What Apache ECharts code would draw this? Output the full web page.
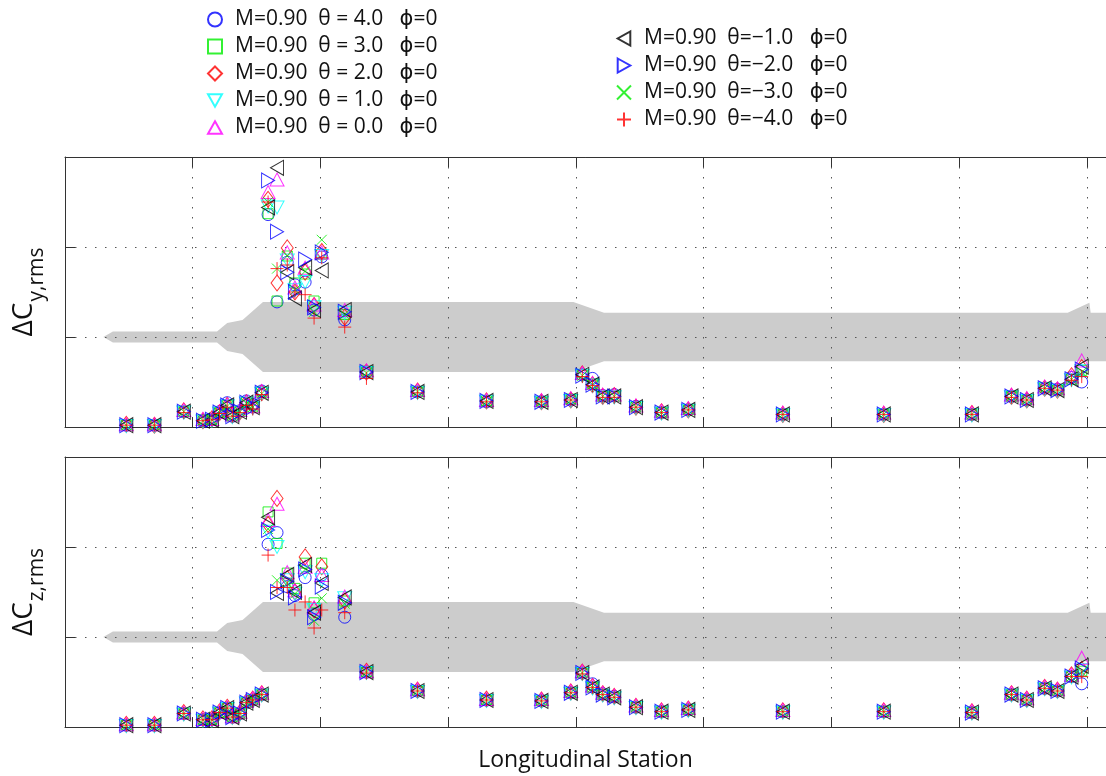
<!DOCTYPE html>
<html>
<head>
<meta charset="utf-8">
<script src="https://cdn.jsdelivr.net/npm/echarts@6/dist/echarts.min.js"></script>
<style>
  html, body { margin: 0; padding: 0; background: #ffffff; }
  #chart { width: 1106px; height: 776px; }
</style>
</head>
<body>
<div id="chart"></div>
<script>
// Longitudinal stations where the coefficients were sampled
const stations = [0.48, 0.70, 0.93, 1.08, 1.15, 1.21, 1.27, 1.31, 1.37, 1.42, 1.47, 1.54,
  1.59, 1.66, 1.74, 1.80, 1.88, 1.95, 2.01, 2.19,
  2.36, 2.76, 3.30, 3.73, 3.96, 4.05, 4.13, 4.21, 4.30, 4.47, 4.67, 4.88,
  5.62, 6.41, 7.10, 7.41, 7.53, 7.67, 7.77, 7.88, 7.96];

// Legend labels, one per run
const runNames = [
  'M=0.90  θ = 4.0   ϕ=0',
  'M=0.90  θ = 3.0   ϕ=0',
  'M=0.90  θ = 2.0   ϕ=0',
  'M=0.90  θ = 1.0   ϕ=0',
  'M=0.90  θ = 0.0   ϕ=0',
  'M=0.90  θ=−1.0   ϕ=0',
  'M=0.90  θ=−2.0   ϕ=0',
  'M=0.90  θ=−3.0   ϕ=0',
  'M=0.90  θ=−4.0   ϕ=0'
];

// ΔCy,rms per run
const cyTheta4  = [0.02,0.02,0.17,0.07,0.08,0.17,0.27,0.12,0.18,0.29,0.25,0.40, 2.36,1.39,1.83,1.58,1.61,1.30,1.89,1.19, 0.61,0.39,0.28,0.28,0.30,0.58,0.54,0.35,0.36,0.23,0.16,0.19,0.14,0.14,0.14,0.34,0.30,0.43,0.42,0.55,0.50];
const cyTheta3  = [0.02,0.02,0.17,0.08,0.08,0.16,0.24,0.12,0.17,0.27,0.22,0.39, 2.37,1.40,1.90,1.60,1.70,1.40,1.92,1.25, 0.62,0.39,0.29,0.28,0.31,0.58,0.48,0.34,0.34,0.22,0.16,0.19,0.14,0.14,0.14,0.34,0.30,0.44,0.41,0.53,0.63];
const cyTheta2  = [0.03,0.02,0.18,0.07,0.09,0.16,0.24,0.13,0.17,0.27,0.23,0.38, 2.53,1.60,1.99,1.50,1.72,1.35,1.95,1.22, 0.61,0.40,0.29,0.28,0.30,0.59,0.47,0.34,0.35,0.22,0.17,0.19,0.14,0.14,0.15,0.34,0.30,0.43,0.41,0.57,0.66];
const cyTheta1  = [0.01,0.01,0.16,0.06,0.07,0.15,0.23,0.11,0.16,0.26,0.21,0.37, 2.45,2.44,1.85,1.52,1.61,1.33,1.90,1.27, 0.60,0.38,0.28,0.27,0.29,0.57,0.46,0.33,0.33,0.21,0.15,0.18,0.13,0.13,0.13,0.33,0.29,0.42,0.40,0.52,0.62];
const cyTheta0  = [0.03,0.03,0.19,0.09,0.09,0.17,0.25,0.14,0.19,0.28,0.23,0.40, 2.61,2.75,1.94,1.55,1.77,1.36,1.94,1.30, 0.63,0.41,0.30,0.30,0.32,0.60,0.49,0.36,0.36,0.24,0.18,0.21,0.16,0.16,0.16,0.36,0.32,0.45,0.43,0.56,0.74];
const cyThetaM1 = [0.02,0.02,0.17,0.07,0.08,0.16,0.24,0.12,0.17,0.27,0.22,0.38, 2.44,2.88,1.72,1.43,1.77,1.30,1.74,1.30, 0.61,0.39,0.29,0.28,0.30,0.58,0.47,0.34,0.34,0.22,0.16,0.19,0.14,0.14,0.14,0.34,0.30,0.43,0.41,0.53,0.67];
const cyThetaM2 = [0.02,0.02,0.17,0.07,0.08,0.16,0.24,0.12,0.17,0.27,0.22,0.38, 2.74,2.17,1.72,1.50,1.86,1.33,1.94,1.28, 0.61,0.39,0.29,0.28,0.30,0.57,0.47,0.34,0.34,0.22,0.16,0.19,0.14,0.14,0.14,0.34,0.30,0.43,0.41,0.53,0.64];
const cyThetaM3 = [0.02,0.02,0.17,0.07,0.08,0.16,0.23,0.12,0.17,0.26,0.22,0.37, 2.50,1.76,1.90,1.52,1.73,1.28,2.08,1.25, 0.60,0.39,0.28,0.28,0.30,0.57,0.47,0.34,0.34,0.22,0.16,0.19,0.14,0.14,0.14,0.34,0.30,0.43,0.41,0.53,0.61];
const cyThetaM4 = [0.02,0.02,0.16,0.07,0.08,0.15,0.22,0.12,0.16,0.24,0.20,0.36, 2.50,1.76,1.80,1.50,1.47,1.21,1.88,1.11, 0.54,0.38,0.28,0.28,0.30,0.56,0.46,0.33,0.33,0.22,0.16,0.19,0.14,0.14,0.14,0.33,0.30,0.43,0.41,0.52,0.56];

// ΔCz,rms per run
const czTheta4  = [0.02,0.02,0.15,0.08,0.08,0.16,0.21,0.11,0.15,0.27,0.30,0.36, 2.03,2.16,1.56,1.46,1.66,1.25,1.69,1.22, 0.61,0.40,0.30,0.29,0.38,0.60,0.48,0.37,0.34,0.22,0.17,0.19,0.17,0.17,0.16,0.36,0.30,0.43,0.40,0.56,0.48];
const czTheta3  = [0.02,0.02,0.15,0.08,0.08,0.16,0.21,0.11,0.15,0.27,0.30,0.36, 2.39,2.04,1.71,1.54,1.82,1.38,1.82,1.40, 0.61,0.40,0.30,0.29,0.38,0.60,0.44,0.36,0.33,0.22,0.17,0.19,0.17,0.17,0.16,0.36,0.30,0.43,0.40,0.56,0.62];
const czTheta2  = [0.03,0.03,0.16,0.09,0.09,0.17,0.22,0.12,0.16,0.28,0.31,0.37, 2.25,2.54,1.65,1.50,1.89,1.30,1.78,1.40, 0.62,0.41,0.31,0.30,0.39,0.61,0.45,0.37,0.34,0.23,0.18,0.20,0.18,0.18,0.17,0.37,0.31,0.44,0.41,0.58,0.64];
const czTheta1  = [0.01,0.01,0.14,0.07,0.07,0.15,0.20,0.10,0.14,0.26,0.29,0.35, 2.17,2.00,1.63,1.48,1.72,1.30,1.63,1.43, 0.60,0.39,0.29,0.28,0.37,0.59,0.43,0.35,0.32,0.21,0.16,0.18,0.16,0.16,0.15,0.35,0.29,0.42,0.39,0.55,0.63];
const czTheta0  = [0.03,0.03,0.16,0.09,0.09,0.17,0.22,0.12,0.17,0.29,0.32,0.38, 2.30,2.48,1.72,1.52,1.78,1.33,1.69,1.45, 0.62,0.42,0.31,0.31,0.40,0.62,0.46,0.38,0.35,0.24,0.19,0.21,0.19,0.19,0.18,0.38,0.32,0.45,0.42,0.58,0.77];
const czThetaM1 = [0.02,0.02,0.15,0.08,0.08,0.16,0.21,0.11,0.15,0.27,0.30,0.36, 2.33,1.49,1.69,1.50,1.80,1.27,1.60,1.44, 0.61,0.40,0.30,0.29,0.38,0.60,0.44,0.36,0.33,0.22,0.17,0.19,0.17,0.17,0.16,0.36,0.30,0.43,0.40,0.56,0.68];
const czThetaM2 = [0.02,0.02,0.15,0.08,0.08,0.16,0.21,0.11,0.15,0.27,0.30,0.36, 2.19,1.50,1.62,1.44,1.75,1.22,1.56,1.38, 0.61,0.40,0.30,0.29,0.38,0.60,0.44,0.36,0.33,0.22,0.17,0.19,0.17,0.17,0.16,0.36,0.30,0.43,0.40,0.56,0.65];
const czThetaM3 = [0.02,0.02,0.15,0.08,0.08,0.16,0.21,0.11,0.15,0.27,0.30,0.36, 2.20,1.63,1.60,1.48,1.75,1.18,1.43,1.37, 0.61,0.40,0.30,0.29,0.38,0.60,0.44,0.36,0.33,0.22,0.17,0.19,0.17,0.17,0.16,0.36,0.30,0.43,0.40,0.56,0.61];
const czThetaM4 = [0.02,0.02,0.15,0.08,0.08,0.16,0.21,0.11,0.15,0.27,0.30,0.36, 1.91,1.55,1.55,1.30,1.39,1.10,1.30,1.27, 0.60,0.40,0.30,0.29,0.38,0.59,0.44,0.36,0.33,0.22,0.17,0.19,0.17,0.17,0.16,0.36,0.30,0.43,0.40,0.56,0.56];

// Vehicle silhouette drawn behind the data (station, upper edge, lower edge)
const bandX      = [0.30, 0.375, 1.19, 1.27, 1.39, 1.55, 3.98, 4.22, 7.85, 8.02, 8.03, 8.15];
const bandTop    = [1.00, 1.06, 1.06, 1.155, 1.19, 1.39, 1.39, 1.27, 1.27, 1.38, 1.27, 1.27];
const bandBottom = [1.00, 0.94, 0.94, 0.845, 0.81, 0.61, 0.61, 0.73, 0.73, 0.73, 0.73, 0.73];

const cyRuns = [cyTheta4, cyTheta3, cyTheta2, cyTheta1, cyTheta0, cyThetaM1, cyThetaM2, cyThetaM3, cyThetaM4];
const czRuns = [czTheta4, czTheta3, czTheta2, czTheta1, czTheta0, czThetaM1, czThetaM2, czThetaM3, czThetaM4];

// Marker styling per run
const markerSymbols = [
  'circle',
  'rect',
  'diamond',
  'path://M0,0L10,0L5,9Z',
  'path://M5,0L10,9L0,9Z',
  'path://M9,0L9,10L0,5Z',
  'path://M0,0L9,5L0,10Z',
  'path://M0,0L10,10M10,0L0,10',
  'path://M5,0L5,10M0,5L10,5'
];
const markerSizes = [12, 10, [12, 16], [14, 13], [14, 13], [13, 15], [13, 15], 10, 13];
const markerColors = ['#0000ff', '#00ee00', '#ff0000', '#00ffff', '#ff00ff', '#000000', '#0000ff', '#00ee00', '#ff0000'];

const FONT = "'Open Sans', 'DejaVu Sans', sans-serif";
const AXIS_COLOR = '#333333';
const X_MAX = 8.15;

function grid(top) {
  return { left: 65, top: top, width: 1043, height: 270, containLabel: false };
}

function bottomX(gridIndex, withName) {
  return {
    type: 'value', gridIndex: gridIndex, position: 'bottom',
    min: 0, max: X_MAX, interval: 1,
    axisLine: { show: true, onZero: false, lineStyle: { color: AXIS_COLOR, width: 1 } },
    axisTick: { show: true, inside: true, length: 10, lineStyle: { color: AXIS_COLOR } },
    axisLabel: { show: false },
    splitLine: { show: true, lineStyle: { color: '#555555', width: 1, type: [1.5, 8.5] } },
    name: withName ? 'Longitudinal Station' : '',
    nameLocation: 'middle', nameGap: 22,
    nameTextStyle: { fontFamily: FONT, fontSize: 23, color: '#111111' }
  };
}

function topX(gridIndex) {
  return {
    type: 'value', gridIndex: gridIndex, position: 'top',
    min: 0, max: X_MAX, interval: 1,
    axisLine: { show: true, onZero: false, lineStyle: { color: AXIS_COLOR, width: 1 } },
    axisTick: { show: true, inside: true, length: 10, lineStyle: { color: AXIS_COLOR } },
    axisLabel: { show: false },
    splitLine: { show: false }
  };
}

function leftY(gridIndex, sub) {
  return {
    type: 'value', gridIndex: gridIndex, position: 'left',
    min: 0, max: 3, interval: 1,
    axisLine: { show: true, onZero: false, lineStyle: { color: AXIS_COLOR, width: 1 } },
    axisTick: { show: true, inside: true, length: 10, lineStyle: { color: AXIS_COLOR } },
    axisLabel: { show: false },
    splitLine: { show: true, lineStyle: { color: '#555555', width: 1, type: [1.5, 8.5] } },
    name: '{a|ΔC}{b|' + sub + '}',
    nameLocation: 'middle', nameRotate: 90, nameGap: 17,
    nameTextStyle: {
      color: '#111111',
      rich: {
        a: { fontFamily: FONT, fontSize: 28, color: '#111111', verticalAlign: 'top', lineHeight: 38 },
        b: { fontFamily: FONT, fontSize: 21, color: '#111111', verticalAlign: 'bottom', lineHeight: 38, padding: [16, 0, 0, 1] }
      }
    }
  };
}

function bandSeries(xIdx, yIdx) {
  return {
    type: 'custom', xAxisIndex: xIdx, yAxisIndex: yIdx,
    z: -1, silent: true, clip: true,
    data: [[0, 0]],
    renderItem: function (params, api) {
      const pts = [];
      for (let i = 0; i < bandX.length; i++) pts.push(api.coord([bandX[i], bandTop[i]]));
      for (let i = bandX.length - 1; i >= 0; i--) pts.push(api.coord([bandX[i], bandBottom[i]]));
      return { type: 'polygon', shape: { points: pts }, style: { fill: '#cccccc', stroke: null } };
    }
  };
}

function runSeries(k, values, xIdx, yIdx) {
  return {
    type: 'scatter', name: runNames[k],
    xAxisIndex: xIdx, yAxisIndex: yIdx,
    symbol: markerSymbols[k], symbolSize: markerSizes[k],
    itemStyle: { color: 'rgba(255,255,255,0)', borderColor: markerColors[k], borderWidth: 1 },
    emphasis: { disabled: true },
    z: 3,
    data: stations.map(function (s, i) { return [s, values[i]]; })
  };
}

const series = [bandSeries(0, 0), bandSeries(2, 1)];
for (let k = 0; k < runNames.length; k++) series.push(runSeries(k, cyRuns[k], 0, 0));
for (let k = 0; k < runNames.length; k++) series.push(runSeries(k, czRuns[k], 2, 1));

function legendColumn(names, left, top) {
  return {
    data: names, orient: 'vertical', left: left, top: top,
    itemWidth: 14, itemHeight: 14, itemGap: 0, selectedMode: false,
    textStyle: { fontFamily: FONT, fontSize: 21, color: '#111111', lineHeight: 27, padding: [0, 0, 0, 8] }
  };
}

const option = {
  backgroundColor: '#ffffff',
  animation: false,
  legend: [
    legendColumn(runNames.slice(0, 5), 202, 1),
    legendColumn(runNames.slice(5), 611, 20)
  ],
  grid: [grid(157), grid(457)],
  xAxis: [bottomX(0, false), topX(0), bottomX(1, true), topX(1)],
  yAxis: [leftY(0, 'y,rms'), leftY(1, 'z,rms')],
  series: series
};

const chart = echarts.init(document.getElementById('chart'), null, { renderer: 'canvas' });
chart.setOption(option);
</script>
</body>
</html>
